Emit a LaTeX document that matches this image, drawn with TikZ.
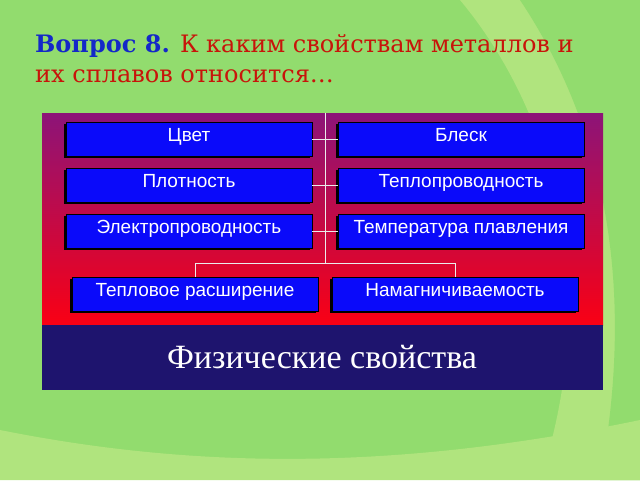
\documentclass[tikz,border=0pt]{standalone}
\usepackage{fontspec}
\setmainfont{Liberation Serif}
\setsansfont{Liberation Sans}
\newfontfamily\titlefont{DejaVu Serif}
\usetikzlibrary{positioning,shadows}
\definecolor{bggreen}{RGB}{146,220,110}
\definecolor{bglight}{RGB}{176,228,126}
\definecolor{boxblue}{RGB}{10,10,250}
\definecolor{panelpurple}{RGB}{140,20,120}
\definecolor{panelred}{RGB}{250,0,20}
\definecolor{navy}{RGB}{30,20,110}
\definecolor{qblue}{RGB}{20,40,200}
\definecolor{qred}{RGB}{200,20,10}
\tikzset{
  propbox/.style={draw=black, line width=0.6pt, fill=boxblue, text=white,
    minimum width=246pt, minimum height=34pt, inner sep=0pt,
    text height=1.5ex, text depth=0.25ex,
    font=\sffamily\fontsize{19}{19}\selectfont,
    drop shadow={shadow xshift=-2pt, shadow yshift=-2pt, fill=black, opacity=1}},
  link/.style={draw=white!85!gray, line width=0.8pt}
}
\begin{document}
\begin{tikzpicture}[x=1pt,y=-1pt]
        % background
        \fill[bggreen] (0,0) rectangle (640,480);
        \fill[bglight] (460,0) .. controls (560,120) and (600,300) .. (540,480) -- (640,480) -- (640,0) -- cycle;
        \fill[bggreen] (520,0) .. controls (620,150) and (630,320) .. (600,480) -- (640,480) -- (640,0) -- cycle;
        \fill[bglight] (0,430) .. controls (200,470) and (400,470) .. (640,420) -- (640,480) -- (0,480) -- cycle;

        % question
        \node[anchor=base west, inner sep=0pt, font=\titlefont\fontsize{24}{24}\selectfont] (q1) at (35,52)
            {\textcolor{qblue}{\bfseries Вопрос 8.} \textcolor{qred}{К каким свойствам металлов и}};
        \node[anchor=base west, inner sep=0pt, font=\titlefont\fontsize{24}{24}\selectfont, text=qred] (q2) at (35,82)
            {их сплавов относится…};

        % panel
        \shade[top color=panelpurple, bottom color=panelred] (42,113) rectangle (603,325);
        \fill[navy] (42,325) rectangle (603,390);
        \node[text=white, font=\fontsize{34}{34}\selectfont] (title) at (322,357) {Физические свойства};

        % connectors
        \coordinate (top) at (325,113);
        \coordinate (hub) at (325,263);
        \coordinate (hl) at (195,263);
        \coordinate (hr) at (455,263);
        \draw[link] (top) -- (hub);
        \draw[link] (hl) -- (hr);

        % boxes
        \node[propbox] (color) at (189,139) {Цвет};
        \node[propbox] (luster) at (461,139) {Блеск};
        \node[propbox] (density) at (189,185) {Плотность};
        \node[propbox] (heat) at (461,185) {Теплопроводность};
        \node[propbox] (elec) at (189,231) {Электропроводность};
        \node[propbox] (melt) at (461,231) {Температура плавления};
        \node[propbox] (expand) at (195,294) {Тепловое расширение};
        \node[propbox] (magnet) at (455,294) {Намагничиваемость};

        \foreach \l/\r in {color/luster,density/heat,elec/melt}
                \draw[link] (\l.east) -- (\r.west);
        \draw[link] (hl) -- (expand.north);
        \draw[link] (hr) -- (magnet.north);
\end{tikzpicture}
\end{document}
